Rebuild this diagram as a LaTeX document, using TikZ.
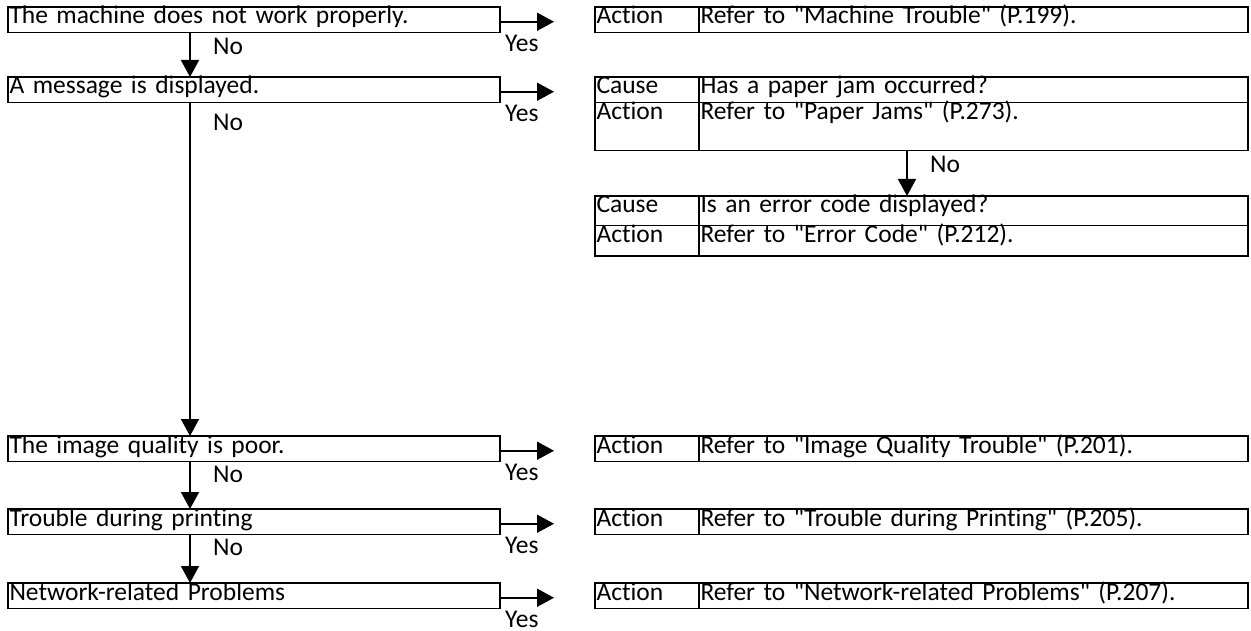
\documentclass[tikz,border=0pt]{standalone}
\usepackage{fontspec}
\setmainfont{Carlito}[Ligatures=NoCommon, WordSpace=0.85]
\usetikzlibrary{positioning}
\usetikzlibrary{arrows.meta}
\usetikzlibrary{calc}

\begin{document}
\begin{tikzpicture}[x=1pt, y=-1pt,
    font=\fontsize{25.5}{30}\selectfont,
    cell/.style={draw, line width=1.3pt, anchor=north west, outer sep=0pt,
        inner xsep=1.5pt, inner ysep=0pt, text height=17pt, text depth=8.5pt, align=left},
    question/.style={cell, text width=489pt},
    tag/.style={cell, text width=101pt},
    answer/.style={cell, text width=546pt},
    flow/.style={line width=1.6pt, -{Triangle[length=17pt, width=18pt]}},
    lbl/.style={anchor=west, inner sep=0pt}]
    \useasboundingbox (0,0) rectangle (1251,631);

    % Questions
    \node[question] (q1) at (8,7) {The machine does not work properly.};
    \node[question] (q2) at (8,77) {A message is displayed.};
    \node[question] (q3) at (8,436) {The image quality is poor.};
    \node[question] (q4) at (8,509) {Trouble during printing};
    \node[question] (q5) at (8,583) {Network-related Problems};

    % Answers
    \node[tag] (t1) at (595,7) {Action};
    \node[answer, right=0pt of t1] (a1) {Refer to \textquotedbl Machine Trouble\textquotedbl\ (P.199).};

    \node[tag] (c2) at (595,77) {Cause};
    \node[answer, right=0pt of c2] (h2) {Has a paper jam occurred?};
    \node[tag, text depth=31pt, below=0pt of c2] (t2) {Action};
    \node[answer, text depth=31pt, right=0pt of t2] (a2) {Refer to \textquotedbl Paper Jams\textquotedbl\ (P.273).};

    \node[tag, text depth=12.5pt] (c3) at (595,196) {Cause};
    \node[answer, text depth=12.5pt, right=0pt of c3] (h3) {Is an error code displayed?};
    \node[tag, text depth=13.5pt, below=0pt of c3] (t3) {Action};
    \node[answer, text depth=13.5pt, right=0pt of t3] (a3) {Refer to \textquotedbl Error Code\textquotedbl\ (P.212).};

    \node[tag] (t4) at (595,436) {Action};
    \node[answer, right=0pt of t4] (a4) {Refer to \textquotedbl Image Quality Trouble\textquotedbl\ (P.201).};
    \node[tag] (t5) at (595,509) {Action};
    \node[answer, right=0pt of t5] (a5) {Refer to \textquotedbl Trouble during Printing\textquotedbl\ (P.205).};
    \node[tag] (t6) at (595,583) {Action};
    \node[answer, right=0pt of t6] (a6) {Refer to \textquotedbl Network-related Problems\textquotedbl\ (P.207).};

    % No path
    \coordinate (spine) at (190,0);
    \coordinate (spine2) at (907,0);
    \draw[flow] (q1.south -| spine) -- (q2.north -| spine);
    \draw[flow] (q2.south -| spine) -- (q3.north -| spine);
    \draw[flow] (q3.south -| spine) -- (q4.north -| spine);
    \draw[flow] (q4.south -| spine) -- (q5.north -| spine);
    \draw[flow] (a2.south -| spine2) -- (h3.north -| spine2);
    \node[lbl] (no1) at ($(q1.south -| spine)+(23,14)$) {No};
    \node[lbl] (no2) at ($(q2.south -| spine)+(23,20)$) {No};
    \node[lbl] (no3) at ($(q3.south -| spine)+(23,13)$) {No};
    \node[lbl] (no4) at ($(q4.south -| spine)+(23,13)$) {No};
    \node[lbl] (no5) at ($(a2.south -| spine2)+(23,14)$) {No};

    % Yes path
    \foreach \i in {1,...,5} {
        \coordinate (tip\i) at ([xshift=54pt, yshift=-2pt]q\i.east);
        \draw[flow] ([yshift=-2pt]q\i.east) -- (tip\i);
        \node[lbl] (yes\i) at ($(q\i.south east)+(5,11)$) {Yes};
    }
\end{tikzpicture}
\end{document}
